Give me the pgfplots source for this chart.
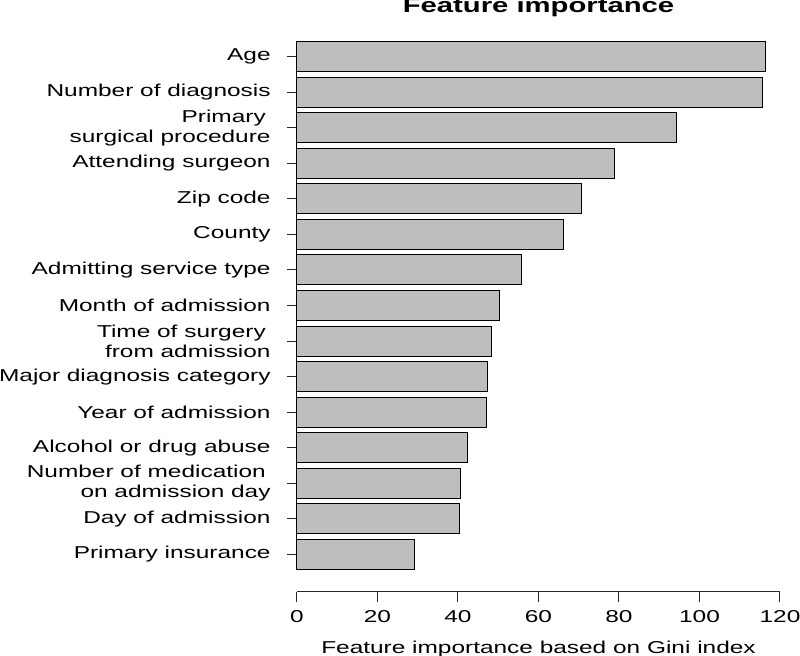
\documentclass[border=0pt]{standalone}
\usepackage{fontspec}
\setmainfont{Liberation Sans}[FakeStretch=1.42]
\usepackage{pgfplots}
\pgfplotsset{compat=1.18}
\definecolor{bargray}{HTML}{BEBEBE}
\begin{document}
\fontsize{8.6pt}{10.2pt}\selectfont
\begin{tikzpicture}
\begin{axis}[
  at={(148.5pt,32pt)}, anchor=south west,
  scale only axis, width=241.5pt, height=276.5pt,
  xmin=0, xmax=120, ymin=-0.06, ymax=15.5,
  axis x line*=bottom, axis y line*=left,
  y axis line style={draw=none},
  x axis line style={line width=0.5pt, color=black!85},
  tick align=outside, major tick length=5pt,
  tick style={line width=0.5pt, color=black!85},
  xtick={0,20,...,120},
  ytick={1,...,15},
  yticklabels={Primary insurance, Day of admission, {Number of medication\hspace*{0.28em}\\on admission day}, Alcohol or drug abuse, Year of admission, Major diagnosis category, {Time of surgery\hspace*{0.28em}\\from admission}, Month of admission, Admitting service type, County, Zip code, Attending surgeon, {Primary\hspace*{0.28em}\\surgical procedure}, Number of diagnosis, Age},
  yticklabel style={align=right, anchor=east, font=\fontsize{8.6pt}{10.2pt}\selectfont, inner sep=0pt, xshift=-8pt},
  xticklabel style={font=\fontsize{8.6pt}{10.2pt}\selectfont, anchor=north, inner sep=0pt, yshift=-4pt},
  /pgf/number format/assume math mode=true,
  xlabel={Feature importance based on Gini index},
  xlabel style={at={(axis description cs:0.5,0)}, anchor=center, yshift=-28.5pt, font=\fontsize{8.6pt}{10.2pt}\selectfont},
  title={\bfseries Feature importance},
  title style={at={(axis description cs:0.5,1)}, anchor=base, yshift=7.3pt, font=\fontsize{10.3pt}{12pt}\selectfont},
  xbar, bar width=0.844, bar shift=0pt,
  clip=false,
]
\addplot[fill=bargray, draw=black, line width=0.5pt] coordinates {
(29.1,1) (40.4,2) (40.7,3) (42.3,4) (47.1,5) (47.4,6) (48.4,7) (50.3,8) (55.8,9) (66.1,10) (70.6,11) (78.9,12) (94.3,13) (115.6,14) (116.3,15)
};
\draw[line width=0.5pt, black] (axis cs:0,0.578) -- (axis cs:0,15.422);
\end{axis}
\pgfresetboundingbox
\useasboundingbox (0,0) rectangle (400pt,328pt);
\end{tikzpicture}
\end{document}
